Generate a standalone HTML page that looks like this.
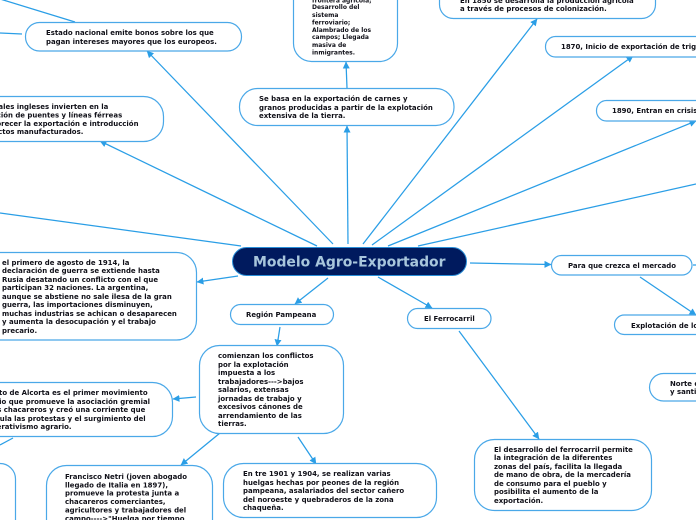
<!DOCTYPE html>
<html><head><meta charset="utf-8"><style>
html,body{margin:0;padding:0;background:#fff;width:696px;height:520px;overflow:hidden}
svg{display:block}
text{font-family:"DejaVu Sans",sans-serif;font-weight:bold;font-size:6.95px;fill:#101018}
text.s{font-size:6px}
.n{fill:#fff;stroke:#4aa8e8;stroke-width:1.2}
.c{stroke:#2a9ee6;stroke-width:1.25;fill:none}
.a{fill:#2a9ee6}
</style></head><body>
<svg width="696" height="520" viewBox="0 0 696 520" xmlns="http://www.w3.org/2000/svg">
<defs><marker id="m" markerWidth="8" markerHeight="8" refX="6.5" refY="3.500" orient="auto" markerUnits="userSpaceOnUse"><path class="a" d="M0 0L7 3.500L0 7Z"/></marker></defs>
<g class="c">
<path d="M0 -1L75 22"/><path d="M0 33L22 34"/>
<path d="M333 244L147 51" marker-end="url(#m)"/>
<path d="M317 246L100 141" marker-end="url(#m)"/>
<path d="M241 246L0 213"/>
<path d="M348 244L347 126" marker-end="url(#m)"/>
<path d="M347 88L346 62" marker-end="url(#m)"/>
<path d="M363 244L537 19" marker-end="url(#m)"/>
<path d="M372 245L633 56" marker-end="url(#m)"/>
<path d="M388 246L696 121" marker-end="url(#m)"/>
<path d="M418 246L696 184"/>
<path d="M470 263L551 264.5" marker-end="url(#m)"/>
<path d="M640 277L696 315" marker-end="url(#m)"/>
<path d="M238 276L197 282" marker-end="url(#m)"/>
<path d="M328 278L295 304" marker-end="url(#m)"/>
<path d="M280 327L277 346" marker-end="url(#m)"/>
<path d="M378 277L432 308" marker-end="url(#m)"/>
<path d="M459 331L539 439" marker-end="url(#m)"/>
<path d="M196 397L173 399" marker-end="url(#m)"/>
<path d="M220 433L181 465" marker-end="url(#m)"/>
<path d="M298 437L316 464" marker-end="url(#m)"/>
<path d="M13 438L0 445"/>
<path d="M693 265L696 265"/>
</g>
<rect class="n" x="25.500" y="22.500" width="216" height="28.500" rx="14"/>
<path class="n" d="M0 96.500H143.500A20 20 0 0 1 163.500 116.500V121.500A20 20 0 0 1 143.500 141.500H0"/>
<path class="n" d="M293.500 0V43.500A18 18 0 0 0 311.500 61.500H379.500A18 18 0 0 0 397.500 43.500V0"/>
<rect class="n" x="239.500" y="88.500" width="214.500" height="37" rx="18"/>
<path class="n" d="M439.500 0V4.500A14 14 0 0 0 453.500 18.500H641.500A14 14 0 0 0 655.500 4.500V0"/>
<path class="n" d="M696 36.500H555.500A10 10 0 0 0 545.500 46.500V47A10 10 0 0 0 555.500 57H696"/>
<path class="n" d="M696 100.500H606.500A10 10 0 0 0 596.500 110.500V111A10 10 0 0 0 606.500 121H696"/>
<path class="n" d="M0 252.500H176.500A20 20 0 0 1 196.500 272.500V320A20 20 0 0 1 176.500 340H0"/>
<rect class="n" x="230.500" y="304.500" width="103" height="20" rx="10"/>
<rect class="n" x="199.500" y="345.500" width="144" height="88" rx="20"/>
<path class="n" d="M0 382.500H152.500A20 20 0 0 1 172.500 402.500V416.500A20 20 0 0 1 152.500 436.500H0"/>
<path class="n" d="M0 463.500A15.500 15.500 0 0 1 15.500 479V520"/>
<path class="n" d="M46.500 520V485.500A20 20 0 0 1 66.500 465.500H192.500A20 20 0 0 1 212.500 485.500V520"/>
<rect class="n" x="223.500" y="463.500" width="213" height="54" rx="20"/>
<rect class="n" x="407.500" y="308.500" width="83.500" height="20" rx="10"/>
<rect class="n" x="551.500" y="255.500" width="140.500" height="19.500" rx="10"/>
<path class="n" d="M696 315H624.500A9.750 9.750 0 0 0 614.500 324.750A9.750 9.750 0 0 0 624.500 334.500H696"/>
<path class="n" d="M696 373.500H663.500A14 14 0 0 0 649.500 387.500A14 14 0 0 0 663.500 401H696"/>
<rect class="n" x="474.500" y="439.500" width="177" height="71" rx="20"/>
<rect x="232.500" y="247.500" width="234" height="28" rx="14" fill="#001a5e" stroke="#2a8fd8"/>
<text x="253" y="266.500" style="font-size:13.950px;fill:#a8c6dc">Modelo Agro-Exportador</text>

<text x="46" y="35">Estado nacional emite bonos sobre los que</text>
<text x="46" y="44">pagan intereses mayores que los europeos.</text>

<text x="-22" y="109">Capitales ingleses invierten en la</text>
<text x="-37" y="117.500">construcción de puentes y líneas férreas</text>
<text x="-36" y="126">para favorecer la exportación e introducción</text>
<text x="-37" y="134">de productos manufacturados.</text>

<text class="s" x="312" y="2.500">frontera agrícola;</text>
<text class="s" x="312" y="9">Desarrollo del</text>
<text class="s" x="312" y="17">sistema</text>
<text class="s" x="312" y="24.500">ferroviario;</text>
<text class="s" x="312" y="32">Alambrado de los</text>
<text class="s" x="312" y="39">campos; Llegada</text>
<text class="s" x="312" y="47">masiva de</text>
<text class="s" x="312" y="54.500">inmigrantes.</text>

<text x="259" y="101">Se basa en la exportación de carnes y</text>
<text x="259" y="110">granos producidas a partir de la explotación</text>
<text x="259" y="118">extensiva de la tierra.</text>

<text x="460" y="3">En 1850 se desarrolla la producción agrícola</text>
<text x="460" y="11">a través de procesos de colonización.</text>

<text x="561" y="49">1870, Inicio de exportación de trigo</text>
<text x="612" y="113">1890, Entran en crisis</text>

<text x="2" y="265">el primero de agosto de 1914, la</text>
<text x="2" y="273">declaración de guerra se extiende hasta</text>
<text x="2" y="282">Rusia desatando un conflicto con el que</text>
<text x="2" y="290">participan 32 naciones. La argentina,</text>
<text x="2" y="299">aunque se abstiene no sale ilesa de la gran</text>
<text x="2" y="307">guerra, las importaciones disminuyen,</text>
<text x="2" y="316">muchas industrias se achican o desaparecen</text>
<text x="2" y="324">y aumenta la desocupación y el trabajo</text>
<text x="2" y="333">precario.</text>

<text x="246" y="317">Región Pampeana</text>

<text x="218" y="358">comienzan los conflictos</text>
<text x="218" y="367">por la explotación</text>
<text x="218" y="375">impuesta a los</text>
<text x="218" y="384">trabajadores---&gt;bajos</text>
<text x="218" y="392">salarios, extensas</text>
<text x="218" y="401">jornadas de trabajo y</text>
<text x="218" y="409">excesivos cánones de</text>
<text x="218" y="418">arrendamiento de las</text>
<text x="218" y="426">tierras.</text>

<text x="-22" y="395">El Grito de Alcorta es el primer movimiento</text>
<text x="-22" y="404">agrario que promueve la asociación gremial</text>
<text x="-22" y="412">de los chacareros y creó una corriente que</text>
<text x="-22" y="421">estimula las protestas y el surgimiento del</text>
<text x="-22" y="429">cooperativismo agrario.</text>

<text x="65" y="479">Francisco Netri (joven abogado</text>
<text x="65" y="487.500">llegado de Italia en 1897),</text>
<text x="65" y="495.500">promueve la protesta junta a</text>
<text x="65" y="504">chacareros comerciantes,</text>
<text x="65" y="512.500">agricultores y trabajadores del</text>
<text x="65" y="521">campo----&gt;"Huelga por tiempo</text>

<text x="243" y="476">En tre 1901 y 1904, se realizan varias</text>
<text x="243" y="485">huelgas hechas por peones de la región</text>
<text x="243" y="493">pampeana, asalariados del sector cañero</text>
<text x="243" y="502">del noroeste y quebraderos de la zona</text>
<text x="243" y="510">chaqueña.</text>

<text x="424" y="321">El Ferrocarril</text>
<text x="568" y="268">Para que crezca el mercado</text>
<text x="631" y="328">Explotación de los</text>
<text x="670" y="386">Norte de</text>
<text x="670" y="394">y santiago</text>

<text x="494" y="452">El desarrollo del ferrocarril permite</text>
<text x="494" y="460">la integración de la diferentes</text>
<text x="494" y="469">zonas del país, facilita la llegada</text>
<text x="494" y="477">de mano de obra, de la mercadería</text>
<text x="494" y="486">de consumo para el pueblo y</text>
<text x="494" y="494">posibilita el aumento de la</text>
<text x="494" y="503">exportación.</text>
</svg>
</body></html>
